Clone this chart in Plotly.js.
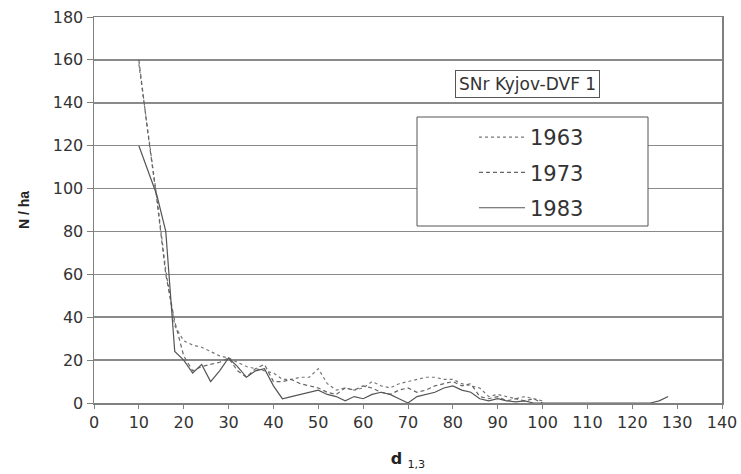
<!DOCTYPE html>
<html>
<head>
<meta charset="utf-8">
<script src="https://cdn.plot.ly/plotly-3.0.1.min.js"></script>
<style>html,body{margin:0;padding:0;background:#fff;}#chart{width:741px;height:474px;}</style>
</head>
<body>
<div id="chart"></div>
<script>
// Diameter classes (cm) and stem counts per hectare
const d1963 = [10,12,14,16,18,20,22,24,26,28,30,32,34,36,38,40,42,44,46,48,50,52,54,56,58,60,62,64,66,68,70,72,74,76,78,80,82,84,86,88,90,92,94,96,98,100];
const n1963 = [158,128,96,62,36,29,27,26,24,22,21,19,17,16,15,14,11,11,12,12,16,9,6,7,6,7,10,8,7,9,10,11,12,12,11,11,9,8,7,3,4,3,2,3,2,1];

const d1973 = [10,12,14,16,18,20,22,24,26,28,30,32,34,36,38,40,42,44,46,48,50,52,54,56,58,60,62,64,66,68,70,72,74,76,78,80,82,84,86,88,90,92,94,96,98,100];
const n1973 = [160,126,95,60,38,22,15,17,18,19,21,15,12,16,18,10,10,11,9,8,7,5,4,7,6,8,7,5,4,6,7,5,6,8,9,10,8,9,3,2,3,1,2,1,2,0];

const d1983 = [10,12,14,16,18,20,22,24,26,28,30,32,34,36,38,40,42,44,46,48,50,52,54,56,58,60,62,64,66,68,70,72,74,76,78,80,82,84,86,88,90,92,94,96,98,100,102,104,106,108,110,112,114,116,118,120,122,124,126,128];
const n1983 = [120,108,97,80,24,20,14,18,10,15,21,17,12,15,16,8,2,3,4,5,6,4,3,1,3,2,4,5,4,2,0,3,4,5,7,8,6,5,2,1,2,1,0.5,1,0,0,0,0,0,0,0,0,0,0,0,0,0,0,1,3];

const seriesNames = ['1963','1973','1983'];
const xTicks = [0,10,20,30,40,50,60,70,80,90,100,110,120,130,140];
const yTicks = [0,20,40,60,80,100,120,140,160,180];
const boxTitle = 'SNr Kyjov-DVF 1';

const F = 'Liberation Sans, Arial, sans-serif';
const W = 'DejaVu Sans, Verdana, sans-serif';
const traces = [
  {x: d1963, y: n1963, name: seriesNames[0], legendgroup: 'a', mode: 'lines',
   line: {color: '#777777', width: 1.2, dash: 'dot'}},
  {x: d1973, y: n1973, name: seriesNames[1], legendgroup: 'b', mode: 'lines',
   line: {color: '#666666', width: 1.2, dash: '4px,3px'}},
  {x: d1983, y: n1983, name: seriesNames[2], legendgroup: 'c', mode: 'lines',
   line: {color: '#555555', width: 1.2}}
];

// plot area pixels: x 94..722, y 17..403
const L = 94, R = 722, T = 17, B = 403;
const px = v => (v - L) / (R - L);
const py = v => (B - v) / (B - T);

const layout = {
  width: 741, height: 474,
  margin: {l: L, r: 741 - R, t: T, b: 474 - B},
  paper_bgcolor: '#fff', plot_bgcolor: '#fff',
  font: {family: F, color: '#222', size: 14},
  showlegend: true,
  legend: {
    x: px(474), y: py(117), xanchor: 'left', yanchor: 'top',
    bgcolor: 'rgba(0,0,0,0)', borderwidth: 0,
    font: {family: W, size: 21, color: '#333'},
    tracegroupgap: 5, itemwidth: 46, traceorder: 'grouped'
  },
  xaxis: {
    range: [0, 140], tickvals: xTicks, ticktext: xTicks.map(String),
    showgrid: false, zeroline: false,
    showline: true, linecolor: '#808080', linewidth: 1.5, mirror: true,
    ticks: 'outside', ticklen: 4, tickcolor: '#808080', tickwidth: 1,
    tickfont: {family: W, size: 16, color: '#333'},
    title: {text: '<b>d</b> <sub>1,3</sub>', font: {family: W, size: 16, color: '#222'}, standoff: 22}
  },
  yaxis: {
    range: [0, 180], tickvals: yTicks, ticktext: yTicks.map(String),
    showgrid: true, gridcolor: '#8a8a8a', gridwidth: 1.6, zeroline: false,
    showline: true, linecolor: '#808080', linewidth: 1.5, mirror: true,
    ticks: 'outside', ticklen: 6, tickcolor: '#808080', tickwidth: 1,
    tickfont: {family: W, size: 16, color: '#333'},
    title: {text: '<b>N / ha</b>', font: {family: F, size: 14, color: '#222'}, standoff: 20}
  },
  shapes: [
    {type: 'rect', xref: 'paper', yref: 'paper', x0: px(417), x1: px(648), y0: py(226), y1: py(117),
     line: {color: '#555', width: 1}, fillcolor: '#fff', layer: 'above'}
  ],
  annotations: [
    {xref: 'paper', yref: 'paper', x: px(527), y: py(84), xanchor: 'center', yanchor: 'middle',
     text: boxTitle, showarrow: false, font: {family: W, size: 17, color: '#333'},
     bordercolor: '#555', borderwidth: 1, borderpad: 3, bgcolor: '#fff'}
  ]
};

Plotly.newPlot('chart', traces, layout, {displayModeBar: false, staticPlot: true});
</script>
</body>
</html>
